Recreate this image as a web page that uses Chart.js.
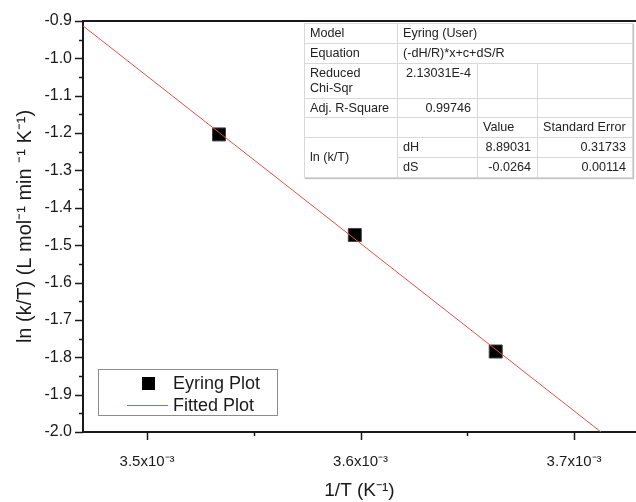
<!DOCTYPE html>
<html>
<head>
<meta charset="utf-8">
<script src="https://cdn.jsdelivr.net/npm/chart.js@4/dist/chart.umd.min.js"></script>
<style>
  html, body { margin: 0; padding: 0; background: #fff; }
  #wrap { position: relative; width: 636px; height: 502px; }
  #chart { position: absolute; left: 0; top: 0; }
  #fit {
    position: absolute; left: 304px; top: 23px; width: 328px;
    border-collapse: collapse; table-layout: fixed;
    font-family: "Liberation Sans", Arial, sans-serif; font-size: 12.6px; color: #222;
    background: #fff; border: 1px solid #8a8a8a; box-shadow: 1px 1px 1px #c4c4c4;
  }
  #fit td { border: 1px solid #d9d9d9; padding: 0 5px; line-height: 15px; white-space: nowrap; overflow: hidden; }
  #fit td.num { text-align: right; padding-right: 6px; }
  #fit td.top { vertical-align: top; padding-top: 2px; }
</style>
</head>
<body>
<div id="wrap">
  <canvas id="chart" width="636" height="502"></canvas>
  <table id="fit">
    <colgroup><col style="width:93px"><col style="width:80px"><col style="width:60px"><col style="width:95px"></colgroup>
    <tr style="height:20px"><td>Model</td><td colspan="3">Eyring (User)</td></tr>
    <tr style="height:20px"><td>Equation</td><td colspan="3">(-dH/R)*x+c+dS/R</td></tr>
    <tr style="height:35px"><td class="top">Reduced<br>Chi-Sqr</td><td class="num top">2.13031E-4</td><td></td><td></td></tr>
    <tr style="height:19px"><td>Adj. R-Square</td><td class="num">0.99746</td><td></td><td></td></tr>
    <tr style="height:20px"><td></td><td></td><td>Value</td><td>Standard Error</td></tr>
    <tr style="height:20px"><td rowspan="2">ln (k/T)</td><td>dH</td><td class="num">8.89031</td><td class="num">0.31733</td></tr>
    <tr style="height:20px"><td>dS</td><td class="num">-0.0264</td><td class="num">0.00114</td></tr>
  </table>
</div>
<script>
// data
const eyringX = [0.0035337, 0.0035973, 0.0036633];
const eyringY = [-1.2036, -1.4727, -1.7846];
const fitX = [0.00347, 0.0037126];
const fitY = [-0.913, -2.0];

const xTicks = [0.0035, 0.0036, 0.0037];
const xTickLabels = ["3.5x10⁻³", "3.6x10⁻³", "3.7x10⁻³"];
const yTicks = [-2.0, -1.9, -1.8, -1.7, -1.6, -1.5, -1.4, -1.3, -1.2, -1.1, -1.0, -0.9];
const yTickLabels = ["-2.0", "-1.9", "-1.8", "-1.7", "-1.6", "-1.5", "-1.4", "-1.3", "-1.2", "-1.1", "-1.0", "-0.9"];

const FONT = "'Liberation Sans', Arial, sans-serif";
const INK = "#1a1a1a";

// major + minor tick marks, top frame line
const tickMarks = {
  id: "tickMarks",
  afterDraw(chart) {
    const { ctx, chartArea: a, scales: { x, y } } = chart;
    ctx.save();
    ctx.strokeStyle = INK;
    ctx.lineWidth = 1.5;
    ctx.fillStyle = INK;
    ctx.fillRect(a.left - 1, a.top - 1, a.right - a.left + 1, 2);

    const marks = (vals) => {
      const out = [];
      const step = vals[1] - vals[0];
      vals.forEach(v => out.push([v, 8]));
      for (let i = -1; i < vals.length; i++) out.push([vals[0] + (i + 0.5) * step, 4]);
      return out;
    };
    marks(xTicks).forEach(([v, len]) => {
      if (v < x.min || v > x.max) return;
      const px = Math.round(x.getPixelForValue(v)) + 0.5;
      ctx.beginPath(); ctx.moveTo(px, a.bottom); ctx.lineTo(px, a.bottom + len); ctx.stroke();
    });
    marks(yTicks).forEach(([v, len]) => {
      if (v < y.min - 1e-9 || v > y.max + 1e-9) return;
      const py = Math.round(y.getPixelForValue(v)) + 0.5;
      ctx.beginPath(); ctx.moveTo(a.left, py); ctx.lineTo(a.left - len, py); ctx.stroke();
    });
    ctx.restore();
  }
};

// boxed legend in the lower-left corner of the plot
const boxLegend = {
  id: "boxLegend",
  afterDraw(chart) {
    const { ctx } = chart;
    const pts = chart.data.datasets[1], fit = chart.data.datasets[0];
    ctx.save();
    ctx.fillStyle = "#fff";
    ctx.fillRect(98, 369, 179, 46);
    ctx.strokeStyle = "#8c8c8c";
    ctx.lineWidth = 1;
    ctx.strokeRect(98.5, 369.5, 179, 46);

    ctx.fillStyle = pts.backgroundColor;
    ctx.fillRect(142, 377, 13, 13);

    ctx.strokeStyle = fit.borderColor;
    ctx.lineWidth = 1;
    ctx.beginPath(); ctx.moveTo(127, 405.5); ctx.lineTo(168, 405.5); ctx.stroke();

    ctx.fillStyle = INK;
    ctx.font = "18px " + FONT;
    ctx.textBaseline = "middle";
    ctx.fillText(pts.label, 173, 384);
    ctx.fillText(fit.label, 173, 406);
    ctx.restore();
  }
};

new Chart(document.getElementById("chart"), {
  type: "scatter",
  data: {
    datasets: [
      {
        label: "Fitted Plot",
        data: fitX.map((v, i) => ({ x: v, y: fitY[i] })),
        showLine: true,
        borderColor: "#e4504c",
        borderWidth: 1,
        pointRadius: 0,
        order: 0
      },
      {
        label: "Eyring Plot",
        data: eyringX.map((v, i) => ({ x: v, y: eyringY[i] })),
        pointStyle: "rect",
        pointRadius: 9.2,
        backgroundColor: "#000",
        borderColor: "#444",
        borderWidth: 1,
        order: 1
      }
    ]
  },
  options: {
    responsive: false,
    animation: false,
    devicePixelRatio: 1,
    layout: { autoPadding: false, padding: { top: 21, right: 0, bottom: 0, left: 0 } },
    plugins: { legend: { display: false }, tooltip: { enabled: false } },
    scales: {
      x: {
        type: "linear",
        position: "bottom",
        min: 0.00347,
        max: 0.003729,
        afterBuildTicks: s => { s.ticks = xTicks.map(v => ({ value: v })); },
        afterFit: s => { s.height = 70; s.paddingLeft = 0; s.paddingRight = 0; },
        grid: { display: false, drawTicks: false },
        border: { display: true, color: INK, width: 2 },
        ticks: {
          padding: 21,
          color: INK,
          font: { family: FONT, size: 15 },
          maxRotation: 0,
          callback: (v, i) => xTickLabels[i]
        },
        title: {
          display: true,
          text: "1/T (K⁻¹)",
          color: INK,
          font: { family: FONT, size: 19 },
          padding: { top: 0, bottom: 0 }
        }
      },
      y: {
        type: "linear",
        min: -2.0,
        max: -0.9,
        afterBuildTicks: s => { s.ticks = yTicks.map(v => ({ value: v })); },
        afterFit: s => { s.width = 83; s.paddingTop = 0; s.paddingBottom = 0; },
        grid: { display: false, drawTicks: false },
        border: { display: true, color: INK, width: 2 },
        ticks: {
          padding: 11,
          color: INK,
          font: { family: FONT, size: 16 },
          callback: (v, i) => yTickLabels[i]
        },
        title: {
          display: true,
          text: "ln (k/T) (L mol⁻¹ min ⁻¹ K⁻¹)",
          color: INK,
          font: { family: FONT, size: 20 },
          padding: { top: 13, bottom: 0 }
        }
      }
    }
  },
  plugins: [tickMarks, boxLegend]
});
</script>
</body>
</html>
